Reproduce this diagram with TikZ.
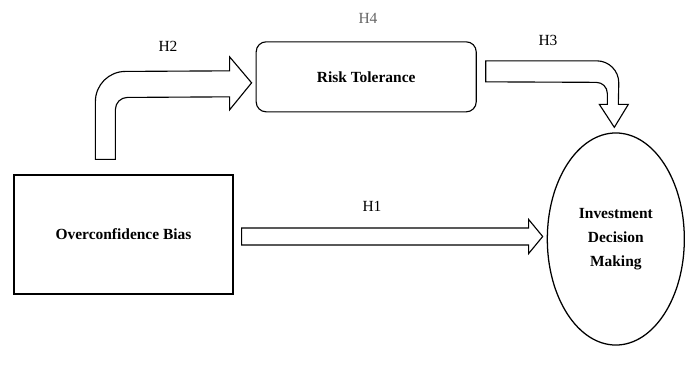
\documentclass[tikz,border=0pt]{standalone}
\usepackage{fontspec}
\setmainfont{Liberation Serif}
\usetikzlibrary{positioning,shapes.geometric,calc}

\begin{document}
\begin{tikzpicture}[
    x=0.025cm, y=-0.025cm,
    node distance=1.55cm and 0.55cm,
 mybox/.style = {
        draw, rectangle, align=center, line width=0.8pt,
        font=\fontsize{11}{17}\selectfont\bfseries, inner sep=0pt},
 myoval/.style = {
        draw, ellipse, align=center, line width=0.9pt,
        font=\fontsize{11}{17}\selectfont\bfseries, inner sep=0pt,
        minimum width=3.425cm, minimum height=5.3cm},
hlabel/.style = {font=\fontsize{11}{13}\selectfont, inner sep=0pt},
bigarrow/.style = {draw, line width=0.8pt, line join=miter, fill=white}
                    ]
\useasboundingbox (0,0) rectangle (689,382);
% the three blocks
\node (ocb)  [mybox, minimum width=5.475cm, minimum height=2.975cm]
        at (123.5,234.5) {Overconfidence Bias};
\node (risk) [mybox, rounded corners=0.25cm, minimum width=5.5cm,
        minimum height=1.75cm, above right=of ocb.north east]
        {Risk Tolerance};
\node (idm)  [myoval, right=7.825cm of ocb, yshift=-0.1125cm]
        {Investment\\ Decision\\ Making};
% block arrows
\coordinate (h1a) at ($(ocb.east)+(8,2)$);
\coordinate (h1b) at ($(idm.west)+(-4,-2.5)$);
\draw[bigarrow] (h1a) ++(0,-8.5) -- ($(h1b)+(-14,-8.5)$) -- ++(0,-8.5)
        -- (h1b) -- ++(-14,17) -- ++(0,-8.5) -- ($(h1a)+(0,8.5)$) -- cycle;
\coordinate (h2a) at ($(ocb.north west)+(82,-15)$);
\coordinate (h2b) at ($(risk.west)+(-4,6)$);
\draw[bigarrow] (h2a) -- ++(0,-58) arc[start angle=180, end angle=270, radius=30]
        -- ($(h2b)+(-22,-12)$) -- ++(0,-14) -- (h2b) -- ++(-22,27) -- ++(0,-13)
        -- ($(h2a)+(32,-62)$) arc[start angle=270, end angle=180, radius=12]
        -- ++(0,50) -- cycle;
\coordinate (h3a) at ($(risk.east)+(9,-16)$);
\coordinate (h3b) at ($(idm.north)+(-1.5,-5)$);
\draw[bigarrow] (h3a) -- ($(h3a)+(111,0)$) arc[start angle=270, end angle=360, radius=22]
        -- ($(h3b)+(4,-23)$) -- ++(10,0) -- (h3b) -- ++(-15,-23) -- ++(8,0)
        -- ++(0,-11) arc[start angle=0, end angle=-90, radius=11]
        -- ($(h3a)+(0,21)$) -- cycle;
% the labels
\node (h1) [hlabel] at (372,206) {H1};
\node (h2) [hlabel] at (168,46)  {H2};
\node (h3) [hlabel] at (548,40)  {H3};
\node (h4) [hlabel, text=black!60] at (368,18) {H4};
\end{tikzpicture}
\end{document}
